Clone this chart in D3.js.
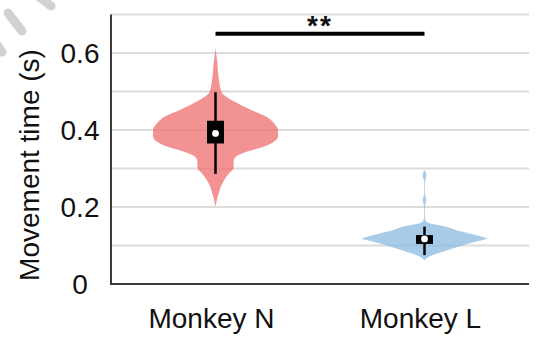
<!DOCTYPE html>
<html>
<head>
<meta charset="utf-8">
<script src="https://cdn.jsdelivr.net/npm/d3@7"></script>
<style>
  html, body { margin: 0; padding: 0; background: #fff; }
  svg { display: block; font-family: "Liberation Sans", Arial, Helvetica, sans-serif; }
</style>
</head>
<body>
<svg id="chart" width="539" height="339"></svg>
<script>
// Groups shown on the x axis
const categories = ["Monkey N", "Monkey L"];
const fillColors = ["#ee6e6e", "#8bbbe0"];

// Kernel density outlines: movement time (s) and relative density (1 = widest)
const profileValuesN = [0.201, 0.227, 0.262, 0.288, 0.301, 0.318, 0.331, 0.344, 0.357, 0.370,
                        0.383, 0.400, 0.417, 0.435, 0.452, 0.474, 0.499, 0.530, 0.573, 0.612];
const profileDensityN = [0, 0.037, 0.11, 0.22, 0.29, 0.29, 0.33, 0.51, 0.78, 0.94,
                         1, 1, 0.94, 0.81, 0.57, 0.30, 0.095, 0.055, 0.03, 0];

const profileValuesL = [0.062, 0.073, 0.084, 0.097, 0.110, 0.114, 0.119, 0.121, 0.127, 0.138,
                        0.151, 0.156, 0.162, 0.170, 0.190, 0.205, 0.212, 0.218, 0.224, 0.232,
                        0.250, 0.268, 0.276, 0.283, 0.290, 0.297];
const profileDensityL = [0, 0.096, 0.29, 0.54, 0.82, 0.93, 1, 0.96, 0.82, 0.54,
                         0.29, 0.13, 0.032, 0.008, 0.006, 0.01, 0.022, 0.03, 0.022, 0.008,
                         0.005, 0.008, 0.022, 0.03, 0.018, 0];

// Box summaries: [lower whisker, Q1, median, Q3, upper whisker]
const boxN = [0.286, 0.365, 0.391, 0.424, 0.498];
const boxL = [0.075, 0.104, 0.117, 0.127, 0.149];

// Axis ticks and significance marker
const yTicks = [0, 0.2, 0.4, 0.6];
const gridValues = [0.1, 0.2, 0.3, 0.4, 0.5, 0.6, 0.7];
const sigLevel = 0.65;
const sigLabel = "**";
const yTitle = "Movement time (s)";

const svg = d3.select("#chart");
const plotLeft = 111, plotRight = 529, plotTop = 14.5, plotBottom = 284;

const y = d3.scaleLinear().domain([0, 0.7]).range([plotBottom, plotTop]);
const x = d3.scalePoint().domain(categories).range([plotLeft, plotRight]).padding(0.5);
const halfWidth = d3.scaleLinear().domain([0, 1]).range([0, 62.5]);

// Faint diagonal strokes in the upper-left corner
const cornerStrokes = [[[8, 13], [22, 31]], [[38, -4], [51, 6]], [[-6, 41], [2, 52]]];
svg.append("g").selectAll("line").data(cornerStrokes).join("line")
  .attr("x1", d => d[0][0]).attr("y1", d => d[0][1])
  .attr("x2", d => d[1][0]).attr("y2", d => d[1][1])
  .attr("stroke", "#d2d2d2").attr("stroke-width", 9).attr("stroke-linecap", "round");

// Horizontal grid
svg.append("g").selectAll("line").data(gridValues).join("line")
  .attr("x1", plotLeft).attr("x2", plotRight)
  .attr("y1", d => y(d)).attr("y2", d => y(d))
  .attr("stroke", "#dcdcdc").attr("stroke-width", 2);

// Violins
const groups = [
  { name: categories[0], values: profileValuesN, density: profileDensityN, box: boxN, color: fillColors[0] },
  { name: categories[1], values: profileValuesL, density: profileDensityL, box: boxL, color: fillColors[1] }
];

groups.forEach(g => {
  const cx = x(g.name);
  const pts = g.values.map((v, i) => ({ v, d: g.density[i] }));
  const area = d3.area()
    .y(p => y(p.v))
    .x0(p => cx - halfWidth(p.d))
    .x1(p => cx + halfWidth(p.d))
    .curve(d3.curveMonotoneY);
  svg.append("path").datum(pts)
    .attr("d", area)
    .attr("fill", g.color)
    .attr("fill-opacity", 0.75);

  const [lo, q1, med, q3, hi] = g.box;
  svg.append("line")
    .attr("x1", cx).attr("x2", cx).attr("y1", y(lo)).attr("y2", y(hi))
    .attr("stroke", "#000").attr("stroke-width", 2.5);
  svg.append("rect")
    .attr("x", cx - 8.5).attr("width", 17)
    .attr("y", y(q3)).attr("height", y(q1) - y(q3))
    .attr("fill", "#000");
  svg.append("circle")
    .attr("cx", cx).attr("cy", y(med)).attr("r", 3.4)
    .attr("fill", "#fff");
});

// Axes lines
svg.append("line").attr("x1", plotLeft).attr("x2", plotLeft)
  .attr("y1", plotTop).attr("y2", plotBottom + 1)
  .attr("stroke", "#3a3a3a").attr("stroke-width", 2);
svg.append("line").attr("x1", plotLeft - 1).attr("x2", plotRight)
  .attr("y1", plotBottom).attr("y2", plotBottom)
  .attr("stroke", "#3a3a3a").attr("stroke-width", 2);

// Y tick labels
svg.append("g").selectAll("text").data(yTicks).join("text")
  .attr("x", 80).attr("y", d => y(d))
  .attr("dy", "0.35em")
  .attr("text-anchor", "middle")
  .attr("font-size", 28).attr("fill", "#111")
  .text(d => d3.format("~g")(d));

// X labels
svg.append("g").selectAll("text").data(categories).join("text")
  .attr("x", d => x(d) - 4).attr("y", 328)
  .attr("text-anchor", "middle")
  .attr("font-size", 28).attr("fill", "#111")
  .text(d => d);

// Y title
svg.append("text")
  .attr("transform", "translate(38.5, 165) rotate(-90)")
  .attr("text-anchor", "middle")
  .attr("font-size", 28).attr("fill", "#111")
  .text(yTitle);

// Significance bar
const x1 = x(categories[0]), x2 = x(categories[1]);
svg.append("line")
  .attr("x1", x1).attr("x2", x2).attr("y1", y(sigLevel)).attr("y2", y(sigLevel))
  .attr("stroke", "#000").attr("stroke-width", 4);
svg.append("text")
  .attr("x", (x1 + x2) / 2).attr("y", y(sigLevel) + 1)
  .attr("text-anchor", "middle")
  .attr("font-size", 28).attr("font-weight", "bold").attr("letter-spacing", 2)
  .attr("fill", "#111")
  .text(sigLabel);
</script>
</body>
</html>
